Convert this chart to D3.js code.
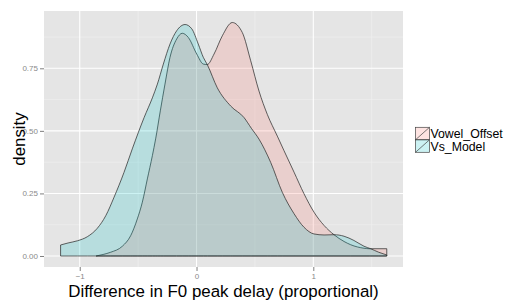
<!DOCTYPE html>
<html><head><meta charset="utf-8">
<script src="https://cdn.jsdelivr.net/npm/d3@7"></script>
<style>body{margin:0;background:#fff;} svg{display:block;font-family:"Liberation Sans",Arial,sans-serif;}</style>
</head><body>
<script>
// Series: Vowel_Offset (red) and Vs_Model (blue) density estimates
const seriesNames = ["Vowel_Offset", "Vs_Model"];
const offsetX = [-0.86,-0.80,-0.735,-0.635,-0.564,-0.507,-0.464,-0.421,-0.378,-0.350,-0.310,-0.270,-0.227,-0.170,-0.122,-0.070,0.002,0.058,0.092,0.150,0.221,0.306,0.392,0.464,0.535,0.606,0.692,0.749,0.835,0.920,1.006,1.092,1.177,1.263,1.320,1.434,1.480,1.629];
const offsetD = [0.000,0.006,0.015,0.039,0.081,0.148,0.215,0.308,0.401,0.468,0.580,0.687,0.794,0.867,0.890,0.873,0.807,0.767,0.765,0.807,0.880,0.933,0.893,0.780,0.659,0.566,0.479,0.421,0.335,0.249,0.175,0.122,0.085,0.058,0.045,0.031,0.029,0.029];
const modelX = [-1.164,-1.10,-1.018,-0.935,-0.849,-0.777,-0.706,-0.621,-0.550,-0.449,-0.378,-0.335,-0.284,-0.227,-0.170,-0.098,-0.041,0.015,0.058,0.092,0.178,0.293,0.407,0.470,0.535,0.635,0.735,0.835,0.920,1.006,1.092,1.177,1.263,1.348,1.434,1.491,1.560,1.629];
const modelD = [0.044,0.052,0.061,0.077,0.111,0.161,0.235,0.334,0.428,0.553,0.632,0.687,0.767,0.847,0.900,0.925,0.908,0.847,0.794,0.765,0.672,0.599,0.553,0.510,0.467,0.374,0.254,0.169,0.115,0.088,0.084,0.085,0.079,0.062,0.039,0.029,0.015,0.004];
const xTicks = [-1, 0, 1];
const xMinor = [-0.5, 0.5, 1.5];
const yTicks = [0, 0.25, 0.5, 0.75];
const yMinor = [0.125, 0.375, 0.625, 0.875];
const yTickLabels = ["0.00", "0.25", "0.50", "0.75"];
const fills = ["#F8766D", "#00BFC4"];

const W = 506, H = 302;
const P = {l: 44, r: 403, t: 11, b: 267};
const x = d3.scaleLinear().domain([-1.306, 1.768]).range([P.l, P.r]);
const y = d3.scaleLinear().domain([-0.044, 0.979]).range([P.b, P.t]);

const svg = d3.select("body").append("svg").attr("width", W).attr("height", H);
svg.append("rect").attr("x", P.l).attr("y", P.t).attr("width", P.r - P.l).attr("height", P.b - P.t).attr("fill", "#E5E5E5");

const g = svg.append("g");
g.selectAll(".vmin").data(xMinor).enter().append("line")
  .attr("x1", d => x(d)).attr("x2", d => x(d)).attr("y1", P.t).attr("y2", P.b)
  .attr("stroke", "#F2F2F2").attr("stroke-width", 0.6);
g.selectAll(".hmin").data(yMinor).enter().append("line")
  .attr("y1", d => y(d)).attr("y2", d => y(d)).attr("x1", P.l).attr("x2", P.r)
  .attr("stroke", "#F2F2F2").attr("stroke-width", 0.6);
g.selectAll(".vmaj").data(xTicks).enter().append("line")
  .attr("x1", d => x(d)).attr("x2", d => x(d)).attr("y1", P.t).attr("y2", P.b)
  .attr("stroke", "#FFFFFF").attr("stroke-width", 1.1);
g.selectAll(".hmaj").data(yTicks).enter().append("line")
  .attr("y1", d => y(d)).attr("y2", d => y(d)).attr("x1", P.l).attr("x2", P.r)
  .attr("stroke", "#FFFFFF").attr("stroke-width", 1.1);

const area = d3.area().x(d => x(d[0])).y0(y(0)).y1(d => y(d[1])).curve(d3.curveMonotoneX);
const series = [
  d3.zip(offsetX, offsetD),
  d3.zip(modelX, modelD)
];
series.forEach((s, i) => {
  svg.append("path").datum(s).attr("d", area)
    .attr("fill", fills[i]).attr("fill-opacity", 0.2)
    .attr("stroke", "#222").attr("stroke-width", 0.7).attr("stroke-linejoin", "round");
});

// Axes
const xAxis = d3.axisBottom(x).tickValues(xTicks).tickSize(4).tickPadding(2).tickFormat(d3.format("d"));
const ya = d3.axisLeft(y).tickValues(yTicks).tickSize(4).tickPadding(2).tickFormat((d, i) => yTickLabels[i]);
const gx = svg.append("g").attr("transform", `translate(0,${P.b})`).call(xAxis);
const gy = svg.append("g").attr("transform", `translate(${P.l},0)`).call(ya);
[gx, gy].forEach(a => {
  a.select(".domain").remove();
  a.selectAll(".tick line").attr("stroke", "#7F7F7F");
  a.selectAll(".tick text").attr("fill", "#8A8A8A").attr("font-size", 8).attr("font-family", "Liberation Sans, Arial, sans-serif");
});

svg.append("text").attr("x", (P.l + P.r) / 2).attr("y", 296.5).attr("text-anchor", "middle")
  .attr("font-size", 16.9).attr("fill", "#000").text("Difference in F0 peak delay (proportional)");
svg.append("text").attr("transform", `translate(25,${(P.t + P.b) / 2}) rotate(-90)`).attr("text-anchor", "middle")
  .attr("font-size", 16.9).attr("fill", "#000").text("density");

// Legend
const lg = svg.append("g");
const keyY = [127.3, 139.8];
seriesNames.forEach((n, i) => {
  lg.append("rect").attr("x", 415.5).attr("y", keyY[i]).attr("width", 14).attr("height", 12.5)
    .attr("fill", fills[i]).attr("fill-opacity", 0.2).attr("stroke", "#444").attr("stroke-width", 0.7);
  lg.append("line").attr("x1", 415.5).attr("y1", keyY[i] + 12.5).attr("x2", 429.5).attr("y2", keyY[i])
    .attr("stroke", "#444").attr("stroke-width", 0.7);
  lg.append("text").attr("x", 430.5).attr("y", keyY[i] + 10.8).attr("font-size", 12.3).attr("fill", "#000").text(n);
});
</script>
</body></html>
